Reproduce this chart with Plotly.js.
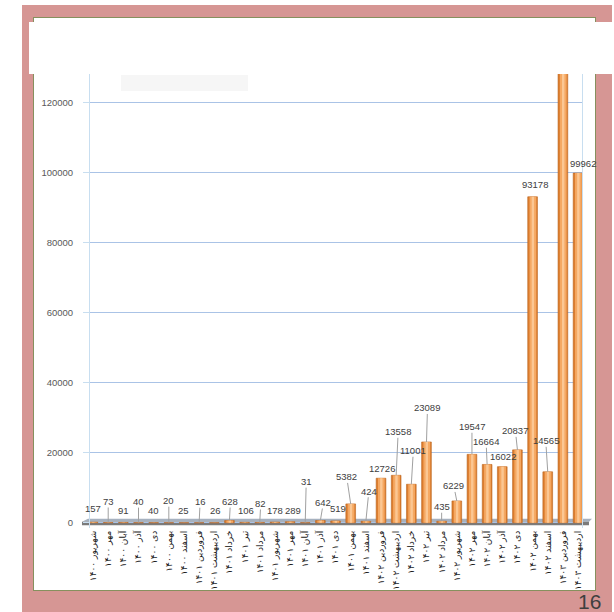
<!DOCTYPE html>
<html>
<head>
<meta charset="utf-8">
<script src="https://cdn.plot.ly/plotly-3.0.1.min.js"></script>
<style>
  html, body { margin: 0; padding: 0; background: #ffffff; }
  body { width: 614px; height: 612px; position: relative; overflow: hidden; }
  #frame { position: absolute; left: 22px; top: 5px; width: 590px; height: 607px; background: #d69694; }
  #inner { position: absolute; left: 33px; top: 17px; width: 563px; height: 574px; background: #ffffff;
           border: 1px solid #86905e; box-sizing: border-box; }
  #legendbox { position: absolute; left: 121px; top: 75px; width: 127px; height: 16px; background: #f6f6f6; }
  #plot { position: absolute; left: 0; top: 0; width: 614px; height: 612px; z-index: 2; }
  #cover { position: absolute; left: 29px; top: 22px; width: 585px; height: 52px; background: #ffffff; z-index: 3; }
  #pagenum { position: absolute; left: 578px; top: 591px; font-family: "Liberation Sans", Arial, sans-serif;
             font-size: 21px; color: #3f3f3f; z-index: 3; line-height: 21px; }
</style>
</head>
<body>
<div id="frame"></div>
<div id="inner"></div>
<div id="legendbox"></div>
<div id="plot"></div>
<div id="cover"></div>
<div id="pagenum">16</div>
<script>
// ---- data ----
const months = [
  "شهریور ۱۴۰۰","مهر ۱۴۰۰","آبان ۱۴۰۰","آذر ۱۴۰۰","دی ۱۴۰۰","بهمن ۱۴۰۰","اسفند ۱۴۰۰",
  "فروردین ۱۴۰۱","اردیبهشت ۱۴۰۱","خرداد ۱۴۰۱","تیر ۱۴۰۱","مرداد ۱۴۰۱","شهریور ۱۴۰۱","مهر ۱۴۰۱",
  "آبان ۱۴۰۱","آذر ۱۴۰۱","دی ۱۴۰۱","بهمن ۱۴۰۱","اسفند ۱۴۰۱",
  "فروردین ۱۴۰۲","اردیبهشت ۱۴۰۲","خرداد ۱۴۰۲","تیر ۱۴۰۲","مرداد ۱۴۰۲","شهریور ۱۴۰۲","مهر ۱۴۰۲",
  "آبان ۱۴۰۲","آذر ۱۴۰۲","دی ۱۴۰۲","بهمن ۱۴۰۲","اسفند ۱۴۰۲",
  "فروردین ۱۴۰۳","اردیبهشت ۱۴۰۳"
];
const values = [
  157, 73, 91, 40, 40, 20, 25, 16, 26, 628, 106, 82, 178, 289, 31, 642, 519,
  5382, 424, 12726, 13558, 11001, 23089, 435, 6229, 19547, 16664, 16022, 20837,
  93178, 14565, 136000, 99962
];
const yTicks = [0, 20000, 40000, 60000, 80000, 100000, 120000, 140000];

// ---- label placement (pixel offsets of each value label from its bar top) ----
const LABEL_DX = [0,0,0,0,0,0,0,1,1,1,1,1,0,3,1,3,2,-4,3,1,2,2,1,0,-3,0,-1,1,-2,2,-2,0,5];
const LABEL_DY = [-13.5,-21,-12,-21,-12,-22,-12,-21,-12,-19,-12,-19,-11.5,-11,-41,-18,-12,
                  -27,-30,-9.5,-43.5,-33.5,-34,-14.5,-15,-27.6,-22.7,-10,-19,-12,-31,-12,-10];

const annotations = values.map((v, i) => {
  const dx = LABEL_DX[i], dy = LABEL_DY[i];
  const base = {
    x: months[i], y: v, xref: 'x', yref: 'y', text: String(v),
    font: {family: 'Liberation Sans, Arial, sans-serif', size: 9.5, color: '#404040'}
  };
  if (dy < -14) {
    return Object.assign(base, {showarrow: true, ax: dx, ay: dy, arrowhead: 0, arrowwidth: 1,
      arrowcolor: '#a0a0a0', standoff: 0, borderpad: 0});
  }
  return Object.assign(base, {showarrow: false, xshift: dx, yshift: -dy, xanchor: 'center', yanchor: 'middle'});
});

const traces = [
  {type: 'bar', x: months, y: values, width: 0.64, offset: -0.32,
   marker: {color: '#dc7d2e', line: {color: '#b8631f', width: 0.6}}, hoverinfo: 'skip'},
  {type: 'bar', x: months, y: values, width: 0.44, offset: -0.2,
   marker: {color: '#f5a862', line: {width: 0}}, hoverinfo: 'skip'},
  {type: 'bar', x: months, y: values, width: 0.16, offset: -0.06,
   marker: {color: '#fbc793', line: {width: 0}}, hoverinfo: 'skip'}
];

const layout = {
  width: 614, height: 612,
  margin: {l: 90, r: 32, t: 33, b: 84, pad: 0},
  paper_bgcolor: 'rgba(0,0,0,0)', plot_bgcolor: 'rgba(0,0,0,0)',
  showlegend: false, barmode: 'overlay',
  xaxis: {
    type: 'category', range: [-0.2, 32.26], showgrid: false, showline: false, zeroline: false,
    ticks: '', tickangle: -90, automargin: false,
    tickfont: {family: 'DejaVu Sans, sans-serif', size: 9, color: '#1a1a1a'}
  },
  yaxis: {
    range: [-1500, 140000], tickvals: yTicks, tickformat: 'd', showgrid: true, gridcolor: '#aac3e6', gridwidth: 1,
    zeroline: false, showline: true, linecolor: '#c8def0', linewidth: 1, mirror: true,
    ticks: 'outside', ticklen: 6, tickcolor: '#c8def0', ticklabelstandoff: 8, automargin: false,
    tickfont: {family: 'Liberation Sans, Arial, sans-serif', size: 9.5, color: '#595959'}
  },
  shapes: [
    {type: 'path', xref: 'paper', yref: 'y', layer: 'between',
     path: 'M -0.0041,1143 L 1.0203,1143 L 1.0142,286 L -0.0163,286 Z',
     fillcolor: '#a6b1bf', line: {width: 0}},
    {type: 'rect', xref: 'paper', yref: 'y', layer: 'between',
     x0: -0.0163, x1: 1.0142, y0: -700, y1: 286, fillcolor: '#7b7b7b', line: {width: 0}}
  ],
  annotations: annotations
};

Plotly.newPlot('plot', traces, layout, {displayModeBar: false, staticPlot: true});
</script>
</body>
</html>
